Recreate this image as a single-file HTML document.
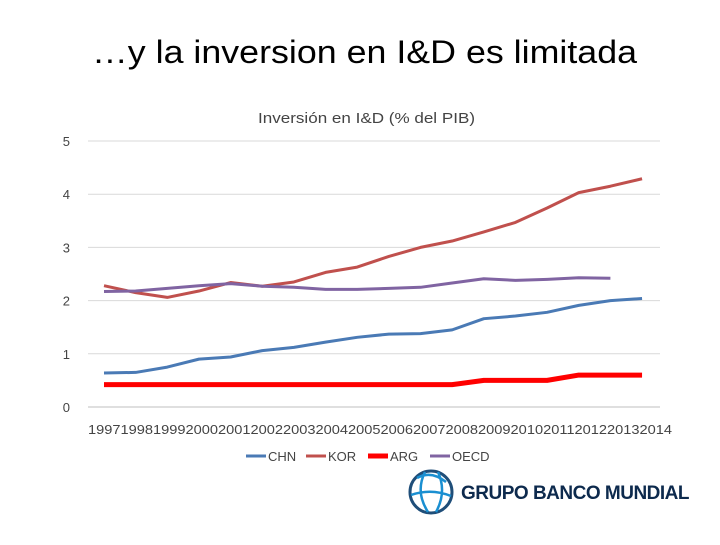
<!DOCTYPE html>
<html><head><meta charset="utf-8"><style>
body{margin:0;background:#fff;width:720px;height:540px;overflow:hidden;font-family:"Liberation Sans",sans-serif}
</style></head><body>
<svg id="c" width="720" height="540">
<text x="92" y="63" font-size="32" fill="#000" textLength="545" lengthAdjust="spacingAndGlyphs">…y la inversion en I&amp;D es limitada</text>
<text x="258" y="123" font-size="15" fill="#444" textLength="217" lengthAdjust="spacingAndGlyphs">Inversión en I&amp;D (% del PIB)</text>
<g id="grid"></g><g id="series"></g><g id="axes"></g>
<g font-size="13" fill="#444">
<line x1="246" y1="456" x2="266" y2="456" stroke="#4a7ab5" stroke-width="3"/><text x="268" y="461">CHN</text>
<line x1="306" y1="456" x2="326" y2="456" stroke="#c0504d" stroke-width="3"/><text x="328" y="461">KOR</text>
<line x1="368" y1="456" x2="388" y2="456" stroke="#ff0000" stroke-width="5"/><text x="390" y="461">ARG</text>
<line x1="430" y1="456" x2="450" y2="456" stroke="#8064a2" stroke-width="3"/><text x="452" y="461">OECD</text>
</g>
<g>
<circle cx="431" cy="492" r="21" fill="none" stroke="#1f4e79" stroke-width="3"/>
<path d="M417 478 Q431 470 446 482 M411 495 Q431 488 451 496 M425 472 Q415 492 428 512 M438 472 Q447 492 436 512" fill="none" stroke="#1a8fd1" stroke-width="2.5"/>
<text x="461" y="499" font-size="19" font-weight="bold" fill="#0d2a4d" letter-spacing="-0.5">GRUPO BANCO MUNDIAL</text>
</g>
</svg>
<script>
const years=[1997,1998,1999,2000,2001,2002,2003,2004,2005,2006,2007,2008,2009,2010,2011,2012,2013,2014];
const chn=[0.64,0.65,0.75,0.9,0.94,1.06,1.12,1.22,1.31,1.37,1.38,1.45,1.66,1.71,1.78,1.91,2.0,2.04];
const kor=[2.28,2.15,2.06,2.18,2.34,2.27,2.35,2.53,2.63,2.83,3.0,3.12,3.29,3.47,3.74,4.03,4.15,4.29];
const arg=[0.42,0.42,0.42,0.42,0.42,0.42,0.42,0.42,0.42,0.42,0.42,0.42,0.5,0.5,0.5,0.6,0.6,0.6];
const oecd=[2.17,2.18,2.23,2.28,2.32,2.27,2.25,2.21,2.21,2.23,2.25,2.33,2.41,2.38,2.4,2.43,2.42];
const yTicks=[0,1,2,3,4,5];
const NS="http://www.w3.org/2000/svg";
const X=i=>104+i*31.65, Y=v=>407-v*53.2;
const grid=document.getElementById('grid'),axes=document.getElementById('axes'),ser=document.getElementById('series');
function mk(tag,attrs,parent){const e=document.createElementNS(NS,tag);for(const k in attrs)e.setAttribute(k,attrs[k]);parent.appendChild(e);return e;}
yTicks.forEach(t=>{
 const l=mk('line',{x1:88,x2:660,y1:Y(t),y2:Y(t),stroke:t===0?'#bfbfbf':'#d9d9d9'},grid);
 
 
 const tx=mk('text',{x:70,y:Y(t)+5,'font-size':13,fill:'#444','text-anchor':'end'},axes);tx.textContent=t;
 
 
});
const xl=mk('text',{x:88,y:434,'font-size':13,fill:'#444',textLength:584,lengthAdjust:'spacingAndGlyphs'},axes);
xl.textContent=years.join('');


function line(d,color,w,name){
 const p=mk('polyline',{points:d.map((v,i)=>X(i)+','+Y(v)).join(' '),fill:'none',stroke:color,'stroke-width':w,'stroke-linejoin':'round'},ser);
 
 
}
line(chn,'#4a7ab5',3,'series-chn');
line(kor,'#c0504d',3,'series-kor');
line(arg,'#ff0000',5,'series-arg');
line(oecd,'#8064a2',3,'series-oecd');
</script>
</body></html>
